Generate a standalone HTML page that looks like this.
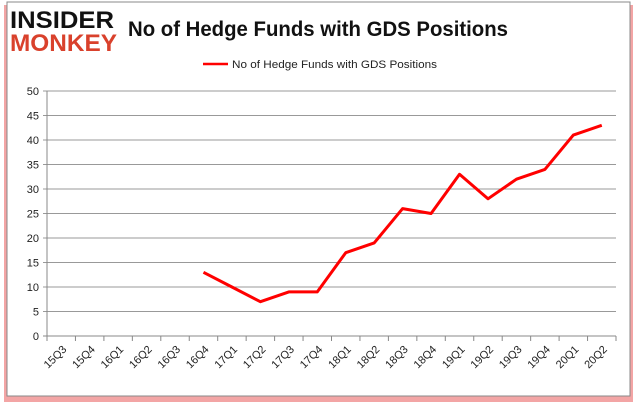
<!DOCTYPE html>
<html><head><meta charset="utf-8"><style>
body{margin:0;background:#fff;width:637px;height:408px;overflow:hidden;font-family:"Liberation Sans",sans-serif}
</style></head><body>
<svg width="637" height="408">
<rect x="4" y="5" width="629" height="397" fill="#f3a5a5"/>
<rect x="7" y="2" width="623" height="394" fill="#fff" stroke="#888" stroke-width="1"/>
<text x="10" y="28" font-size="24" font-weight="bold" fill="#111" textLength="104" lengthAdjust="spacingAndGlyphs">INSIDER</text>
<text x="10" y="51" font-size="24" font-weight="bold" fill="#d9412c" textLength="107" lengthAdjust="spacingAndGlyphs">MONKEY</text>
<text x="128" y="36" font-size="21" font-weight="bold" fill="#111" textLength="380" lengthAdjust="spacingAndGlyphs">No of Hedge Funds with GDS Positions</text>
<line x1="203" y1="64" x2="228" y2="64" stroke="red" stroke-width="2.5"/>
<text x="232" y="68" font-size="11" fill="#222" textLength="205" lengthAdjust="spacingAndGlyphs">No of Hedge Funds with GDS Positions</text>
<g id="grid"></g><g id="axes"></g><g id="series"></g>
</svg>
<script>
const categories=["15Q3","15Q4","16Q1","16Q2","16Q3","16Q4","17Q1","17Q2","17Q3","17Q4","18Q1","18Q2","18Q3","18Q4","19Q1","19Q2","19Q3","19Q4","20Q1","20Q2"];
const values=[null,null,null,null,null,13,10,7,9,9,17,19,26,25,33,28,32,34,41,43];
const yTicks=[0,5,10,15,20,25,30,35,40,45,50];
const NS="http://www.w3.org/2000/svg";
const L=47,R=616,T=91,B=336,bw=(R-L)/categories.length;
const x=i=>L+(i+0.5)*bw, y=v=>B-(v/50)*(B-T);
function mk(t,a,p){const e=document.createElementNS(NS,t);for(const k in a)e.setAttribute(k,a[k]);p.appendChild(e);return e;}
const grid=document.getElementById('grid'),axes=document.getElementById('axes'),ser=document.getElementById('series');
yTicks.forEach(v=>{
 const g=mk('line',{x1:L-4,x2:R,y1:y(v),y2:y(v),stroke:v?'#999':'#888'},grid);
 
 
 const t=mk('text',{x:L-8,y:y(v)+4,'font-size':11,'text-anchor':'end',fill:'#222'},axes);
 t.textContent=v;
 
 
});
const ya=mk('line',{x1:L,x2:L,y1:T,y2:B,stroke:'#888'},axes);


for(let i=0;i<=categories.length;i++){
 const tk=mk('line',{x1:L+i*bw,x2:L+i*bw,y1:B,y2:B+5,stroke:'#888'},axes);
 
 
}
categories.forEach((c,i)=>{
 const t=mk('text',{x:x(i)+6,y:B+14,'font-size':11,'text-anchor':'end',fill:'#222',transform:`rotate(-45 ${x(i)+6} ${B+14})`},axes);
 t.textContent=c;
 
 
});
let d='';values.forEach((v,i)=>{if(v==null)return;d+=(d?'L':'M')+x(i)+' '+y(v);});
const p=mk('path',{d:d,fill:'none',stroke:'red','stroke-width':3,'stroke-linejoin':'round'},ser);


</script>
</body></html>
